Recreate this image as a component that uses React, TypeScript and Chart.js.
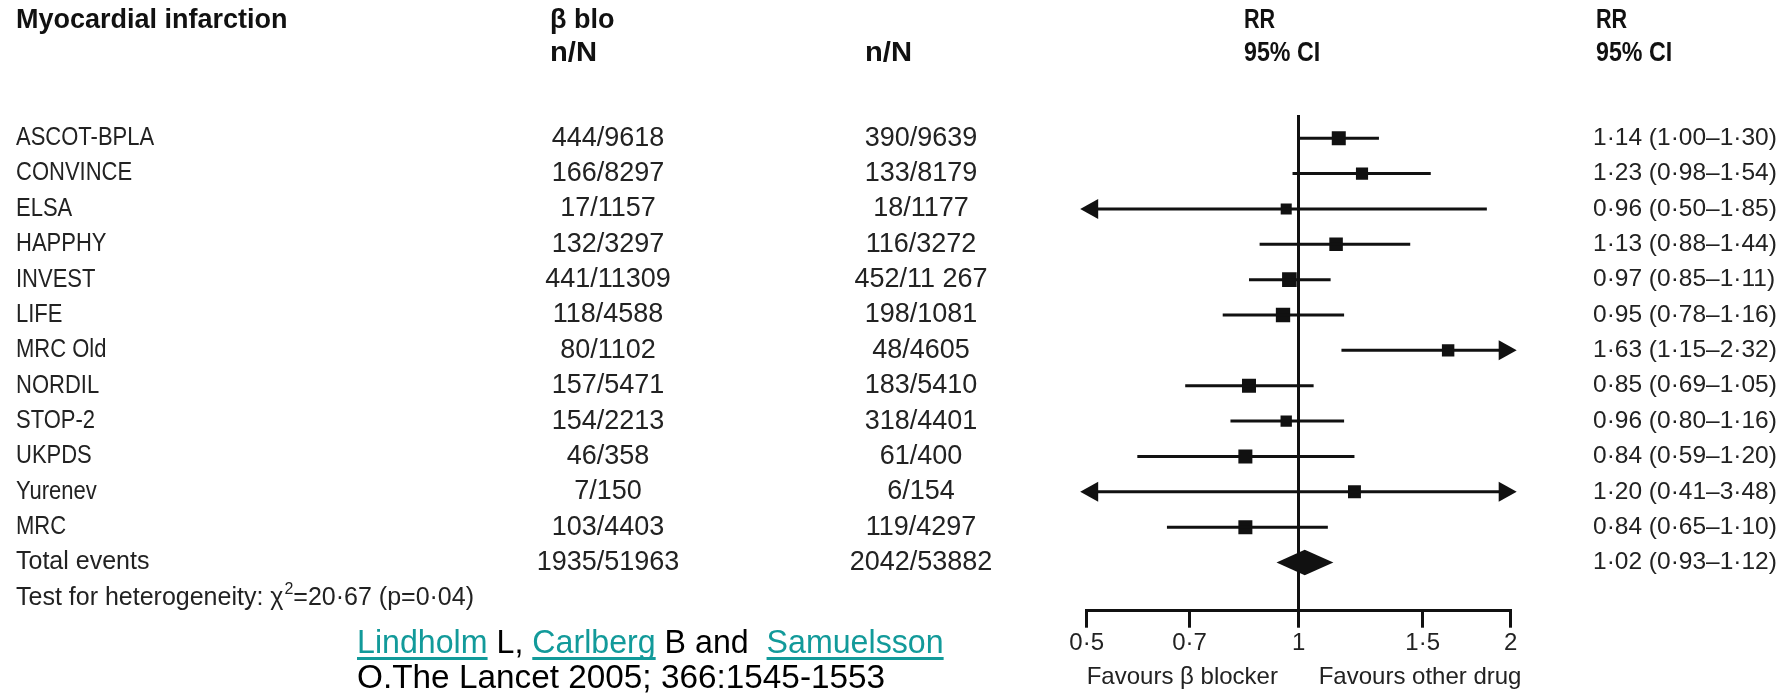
import React, { useEffect, useRef } from 'react';
import { Chart, registerables } from 'chart.js';

Chart.register(...registerables);

// ---------------- DATA ----------------
const studies = ['ASCOT-BPLA', 'CONVINCE', 'ELSA', 'HAPPHY', 'INVEST', 'LIFE', 'MRC Old', 'NORDIL', 'STOP-2', 'UKPDS', 'Yurenev', 'MRC'];
const betaBlockerEvents = ['444/9618', '166/8297', '17/1157', '132/3297', '441/11309', '118/4588', '80/1102', '157/5471', '154/2213', '46/358', '7/150', '103/4403'];
const otherDrugEvents = ['390/9639', '133/8179', '18/1177', '116/3272', '452/11 267', '198/1081', '48/4605', '183/5410', '318/4401', '61/400', '6/154', '119/4297'];
const rr = [1.14, 1.23, 0.96, 1.13, 0.97, 0.95, 1.63, 0.85, 0.96, 0.84, 1.20, 0.84];
const ciLow = [1.00, 0.98, 0.50, 0.88, 0.85, 0.78, 1.15, 0.69, 0.80, 0.59, 0.41, 0.65];
const ciHigh = [1.30, 1.54, 1.85, 1.44, 1.11, 1.16, 2.32, 1.05, 1.16, 1.20, 3.48, 1.10];
const studyWeight = [9.0, 7.8, 7.1, 8.7, 9.4, 9.2, 8.0, 9.0, 7.3, 9.0, 8.3, 9.0];

const totalLabel = 'Total events';
const totalBeta = '1935/51963';
const totalOther = '2042/53882';
const totalRR = 1.02;
const totalLow = 0.93;
const totalHigh = 1.12;

const heterogeneityPrefix = 'Test for heterogeneity: \u03C7';
const heterogeneitySup = '2';
const heterogeneitySuffix = '=20\u00B767 (p=0\u00B704)';

const xTicks = [0.5, 0.7, 1, 1.5, 2];
const xTickLabels = ['0\u00B75', '0\u00B77', '1', '1\u00B75', '2'];

const headerTitle = 'Myocardial infarction';
const headerBeta = '\u03B2 blo';
const headerNN = 'n/N';
const headerRR = 'RR';
const headerCI = '95% CI';
const favoursLeft = 'Favours \u03B2 blocker';
const favoursRight = 'Favours other drug';

const citationLine1 = [
  { text: 'Lindholm', link: true },
  { text: ' L, ', link: false },
  { text: 'Carlberg', link: true },
  { text: ' B and  ', link: false },
  { text: 'Samuelsson', link: true },
];
const citationLine2 = 'O.The Lancet 2005; 366:1545-1553';

// ---------------- LAYOUT / STYLE ----------------
const W = 1791;
const H = 694;
const X_MIN = 0.5;
const X_MAX = 2;
const ROW_TOP_PX = 138;
const ROW_STEP = 35;
const AREA_TOP = 115;
const AREA_BOTTOM = 605.7;
const AREA_LEFT = 1086.7;
const AREA_RIGHT = 1510.7;
const MARKER_SCALE = 1.1;

const INK = '#111';
const TEXT = '#222';
const LINK = '#129a9a';

const fmt = (v: number) => v.toFixed(2).replace('.', '\u00B7');

function drawText(ctx: CanvasRenderingContext2D, text: string, x: number, y: number, font: string, color: string, align: 'left' | 'center' | 'right' = 'left', condense = 1) {
  ctx.save();
  ctx.font = font;
  ctx.fillStyle = color;
  ctx.textBaseline = 'middle';
  ctx.textAlign = 'left';
  const w = ctx.measureText(text).width * condense;
  const left = align === 'left' ? x : align === 'center' ? x - w / 2 : x - w;
  ctx.translate(left, y);
  ctx.scale(condense, 1);
  ctx.fillText(text, 0, 0);
  ctx.restore();
  return w;
}

const forestPlugin = {
  id: 'forestExtras',
  afterDatasetsDraw(chart: any) {
    const ctx: CanvasRenderingContext2D = chart.ctx;
    const xs = chart.scales.x;
    const ys = chart.scales.y;
    ctx.save();
    ctx.fillStyle = INK;
    studies.forEach((_, i) => {
      const y = ys.getPixelForValue(i);
      if (ciLow[i] <= X_MIN) {
        const px = xs.getPixelForValue(X_MIN);
        ctx.beginPath();
        ctx.moveTo(px - 6.5, y);
        ctx.lineTo(px + 11.5, y - 10);
        ctx.lineTo(px + 11.5, y + 10);
        ctx.closePath();
        ctx.fill();
      }
      if (ciHigh[i] > X_MAX) {
        const px = xs.getPixelForValue(X_MAX);
        ctx.beginPath();
        ctx.moveTo(px + 6, y);
        ctx.lineTo(px - 12, y - 10);
        ctx.lineTo(px - 12, y + 10);
        ctx.closePath();
        ctx.fill();
      }
    });
    const yt = ys.getPixelForValue(studies.length);
    const half = (ys.getPixelForValue(1) - ys.getPixelForValue(0)) * 0.36;
    ctx.beginPath();
    ctx.moveTo(xs.getPixelForValue(totalLow), yt);
    ctx.lineTo(xs.getPixelForValue(totalRR), yt - half);
    ctx.lineTo(xs.getPixelForValue(totalHigh), yt);
    ctx.lineTo(xs.getPixelForValue(totalRR), yt + half);
    ctx.closePath();
    ctx.fill();
    ctx.restore();
  },
  afterDraw(chart: any) {
    const ctx: CanvasRenderingContext2D = chart.ctx;
    const ys = chart.scales.y;
    const xs = chart.scales.x;
    const hdr = 'bold 27px "Liberation Sans"';
    const nameFont = '25px "Liberation Sans"';
    const numFont = '27px "Liberation Sans"';
    const rrFont = '24.5px "Liberation Sans"';

    // headers
    drawText(ctx, headerTitle, 16, 21, hdr, INK, 'left', 1.0);
    drawText(ctx, headerBeta, 550, 21, hdr, INK, 'left', 1.0);
    drawText(ctx, headerNN, 550, 54, hdr, INK, 'left', 1.08);
    drawText(ctx, headerNN, 865, 54, hdr, INK, 'left', 1.08);
    drawText(ctx, headerRR, 1244, 21, hdr, INK, 'left', 0.8);
    drawText(ctx, headerCI, 1244, 54, hdr, INK, 'left', 0.86);
    drawText(ctx, headerRR, 1596, 21, hdr, INK, 'left', 0.8);
    drawText(ctx, headerCI, 1596, 54, hdr, INK, 'left', 0.86);

    // study rows
    studies.forEach((s, i) => {
      const y = ys.getPixelForValue(i);
      drawText(ctx, s, 16, y, nameFont, TEXT, 'left', 0.88);
      drawText(ctx, betaBlockerEvents[i], 608, y, numFont, TEXT, 'center');
      drawText(ctx, otherDrugEvents[i], 921, y, numFont, TEXT, 'center');
      drawText(ctx, `${fmt(rr[i])} (${fmt(ciLow[i])}\u2013${fmt(ciHigh[i])})`, 1593, y, rrFont, TEXT, 'left');
    });
    const n = studies.length;
    const yTot = ys.getPixelForValue(n);
    drawText(ctx, totalLabel, 16, yTot, nameFont, TEXT, 'left', 1.0);
    drawText(ctx, totalBeta, 608, yTot, numFont, TEXT, 'center');
    drawText(ctx, totalOther, 921, yTot, numFont, TEXT, 'center');
    drawText(ctx, `${fmt(totalRR)} (${fmt(totalLow)}\u2013${fmt(totalHigh)})`, 1593, yTot, rrFont, TEXT, 'left');

    // heterogeneity
    const yHet = ys.getPixelForValue(n + 1);
    let hx = 16;
    hx += drawText(ctx, heterogeneityPrefix, hx, yHet, nameFont, TEXT, 'left', 1.0);
    hx += drawText(ctx, heterogeneitySup, hx + 1, yHet - 8, '16px "Liberation Sans"', TEXT, 'left', 1.0) + 1;
    drawText(ctx, heterogeneitySuffix, hx, yHet, nameFont, TEXT, 'left', 1.0);

    // favours labels
    drawText(ctx, favoursLeft, xs.getPixelForValue(X_MIN), 677, '24px "Liberation Sans"', TEXT, 'left');
    drawText(ctx, favoursRight, xs.getPixelForValue(1) + 20, 677, '24px "Liberation Sans"', TEXT, 'left');

    // citation
    const cFont = '33px "Liberation Sans"';
    let cx = 357;
    const cy1 = 644;
    citationLine1.forEach((seg) => {
      const w = drawText(ctx, seg.text, cx, cy1, cFont, seg.link ? LINK : '#000', 'left', 0.975);
      if (seg.link) {
        ctx.save();
        ctx.fillStyle = LINK;
        ctx.fillRect(cx, cy1 + 13, w, 3);
        ctx.restore();
      }
      cx += w;
    });
    drawText(ctx, citationLine2, 357, 679, cFont, '#000', 'left', 1.01);
  },
};

export default function App() {
  const ref = useRef<HTMLCanvasElement>(null);
  useEffect(() => {
    if (!ref.current) return;
    const ciDatasets = studies.map((s, i) => ({
      label: s,
      data: [
        { x: Math.max(ciLow[i], X_MIN), y: i },
        { x: Math.min(ciHigh[i], X_MAX), y: i },
      ],
      showLine: true,
      borderColor: INK,
      borderWidth: 3,
      pointRadius: 0,
      clip: 8,
    }));
    const markers = {
      label: 'RR',
      data: rr.map((v, i) => ({ x: v, y: i })),
      pointStyle: 'rect',
      pointRadius: studyWeight.map((w) => w * MARKER_SCALE),
      backgroundColor: INK,
      borderColor: INK,
      borderWidth: 0,
      showLine: false,
    };
    const chart = new Chart(ref.current, {
      type: 'scatter',
      data: { datasets: [...ciDatasets, markers] as any },
      options: {
        responsive: false,
        animation: false,
        events: [],
        layout: {
          padding: {
            left: AREA_LEFT,
            right: W - AREA_RIGHT,
            top: AREA_TOP,
            bottom: 35.5,
          },
        },
        scales: {
          x: {
            type: 'logarithmic',
            min: X_MIN,
            max: X_MAX,
            afterBuildTicks: (scale: any) => {
              scale.ticks = xTicks.map((v) => ({ value: v }));
            },
            ticks: {
              autoSkip: false,
              maxRotation: 0,
              padding: 1,
              color: TEXT,
              font: { family: 'Liberation Sans', size: 24 },
              callback: (_v: any, idx: number) => xTickLabels[idx],
            },
            grid: {
              display: true,
              drawOnChartArea: true,
              color: (c: any) => (c.tick && c.tick.value === 1 ? INK : 'rgba(0,0,0,0)'),
              lineWidth: 3,
              drawTicks: true,
              tickLength: 17,
              tickColor: INK,
              tickWidth: 3,
            },
            border: { display: true, color: INK, width: 3 },
          },
          y: {
            type: 'linear',
            reverse: true,
            display: false,
            min: -(ROW_TOP_PX - AREA_TOP) / ROW_STEP,
            max: (AREA_BOTTOM - ROW_TOP_PX) / ROW_STEP,
          },
        },
        plugins: {
          legend: { display: false },
          tooltip: { enabled: false },
        },
      } as any,
      plugins: [forestPlugin],
    });
    return () => chart.destroy();
  }, []);

  return (
    <div style={{ position: 'fixed', left: 0, top: 0, width: W, height: H, background: '#fff' }}>
      <canvas ref={ref} width={W} height={H} style={{ display: 'block', width: W, height: H }} />
    </div>
  );
}
